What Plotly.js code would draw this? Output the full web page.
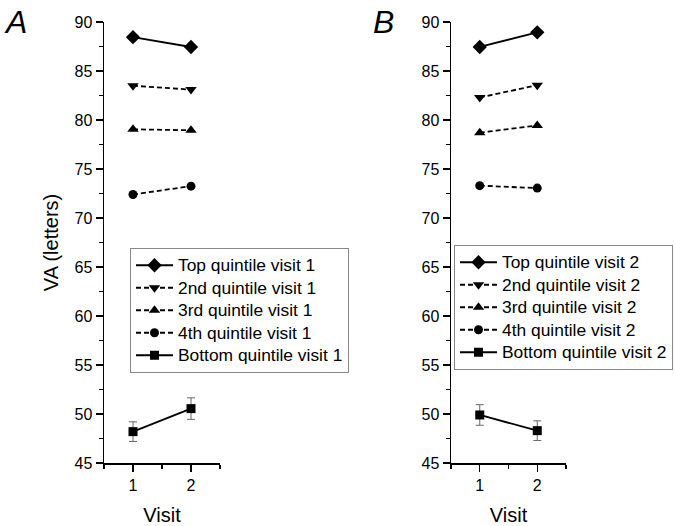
<!DOCTYPE html>
<html>
<head>
<meta charset="utf-8">
<script src="https://cdn.plot.ly/plotly-3.0.1.min.js"></script>
<style>html,body{margin:0;padding:0;background:#fff;}#chart{width:675px;height:526px;}</style>
</head>
<body>
<div id="chart"></div>
<script>
const visits = [1, 2];
const seriesNames = ["Top quintile", "2nd quintile", "3rd quintile", "4th quintile", "Bottom quintile"];
const symbols = ["diamond", "triangle-down", "triangle-up", "circle", "square"];
const dashes = ["solid", "5px,3px", "5px,3px", "5px,3px", "solid"];
const markerSizes = [11, 10, 10, 9, 9];

// Panel A (visit 1 quintiles)
const valuesA = [
  [88.45, 87.45],
  [83.5, 83.1],
  [79.05, 78.95],
  [72.4, 73.25],
  [48.2, 50.55]
];
const errA = [null, null, null, null, [1.0, 1.1]];

// Panel B (visit 2 quintiles)
const valuesB = [
  [87.45, 88.95],
  [82.3, 83.55],
  [78.7, 79.45],
  [73.3, 73.05],
  [49.9, 48.3]
];
const errB = [null, null, null, null, [1.05, 1.0]];

const font = "Liberation Sans, Arial, sans-serif";
const traces = [];
function addPanel(vals, errs, xa, ya, legendId, suffix) {
  vals.forEach((v, i) => {
    const t = {
      x: visits, y: v, xaxis: xa, yaxis: ya,
      type: "scatter", mode: "lines+markers",
      name: '<span style="font-size:17.4px">' + seriesNames[i] + " " + suffix + "</span>",
      legend: legendId,
      line: {color: "#000", width: 1.8, dash: dashes[i]},
      marker: {symbol: symbols[i], size: markerSizes[i], color: "#000"},
      cliponaxis: false
    };
    if (errs[i]) {
      t.error_y = {type: "data", array: errs[i], visible: true, color: "#666", thickness: 1, width: 4};
    }
    traces.push(t);
  });
}
addPanel(valuesA, errA, "x", "y", "legend", "visit 1");
addPanel(valuesB, errB, "x2", "y2", "legend2", "visit 2");

function xAxis(domain, anchor) {
  return {
    domain: domain, anchor: anchor, range: [0.5, 2.5],
    tickvals: [1, 2], ticktext: ["1", "2"],
    ticks: "outside", ticklen: 7, tickwidth: 1.2, tickcolor: "#000",
    minor: {tickvals: [0.5, 1.5, 2.5], ticks: "outside", ticklen: 4, tickwidth: 1.2, tickcolor: "#000"},
    showline: true, linecolor: "#000", linewidth: 1.5,
    showgrid: false, zeroline: false,
    tickfont: {family: font, size: 16, color: "#000"},
    title: {text: "Visit", font: {family: font, size: 20, color: "#000"}, standoff: 16},
    automargin: false,
    fixedrange: true
  };
}
function yAxis(domain, anchor, withTitle) {
  const a = {
    domain: domain, anchor: anchor, range: [45, 90],
    tick0: 45, dtick: 5,
    ticks: "outside", ticklen: 7, tickwidth: 1.2, tickcolor: "#000",
    minor: {dtick: 2.5, ticks: "outside", ticklen: 4, tickwidth: 1.2, tickcolor: "#000"},
    showline: true, linecolor: "#000", linewidth: 1.5,
    showgrid: false, zeroline: false,
    tickfont: {family: font, size: 16, color: "#000"},
    automargin: false,
    fixedrange: true
  };
  if (withTitle) a.title = {text: "VA (letters)", font: {family: font, size: 20, color: "#000"}, standoff: 10};
  return a;
}
const yDom = [1 - 463/526, 1 - 22/526];
const legendStyle = (x, y) => ({
  x: x, y: y, xanchor: "left", yanchor: "top",
  bordercolor: "#888", borderwidth: 1, bgcolor: "rgba(255,255,255,0)",
  font: {family: font, size: 15, color: "#000"},
  itemwidth: 37, tracegroupgap: 0
});

const layout = {
  width: 675, height: 526,
  margin: {l: 0, r: 0, t: 0, b: 0, autoexpand: false},
  paper_bgcolor: "#fff", plot_bgcolor: "rgba(0,0,0,0)",
  showlegend: true,
  xaxis: xAxis([104/675, 220/675], "y"),
  yaxis: yAxis(yDom, "x", true),
  xaxis2: xAxis([451/675, 566/675], "y2"),
  yaxis2: yAxis(yDom, "x2", false),
  legend: legendStyle(130/675, 1 - 248/526),
  legend2: legendStyle(454/675, 1 - 245/526),
  annotations: [
    {text: "<i>A</i>", x: 2/675, y: 1 - 2/526, xref: "paper", yref: "paper", xanchor: "left", yanchor: "top", showarrow: false, font: {family: font, size: 32, color: "#000"}},
    {text: "<i>B</i>", x: 371/675, y: 1 - 2/526, xref: "paper", yref: "paper", xanchor: "left", yanchor: "top", showarrow: false, font: {family: font, size: 32, color: "#000"}}
  ]
};
Plotly.newPlot("chart", traces, layout, {staticPlot: true, displayModeBar: false});
</script>
</body>
</html>
